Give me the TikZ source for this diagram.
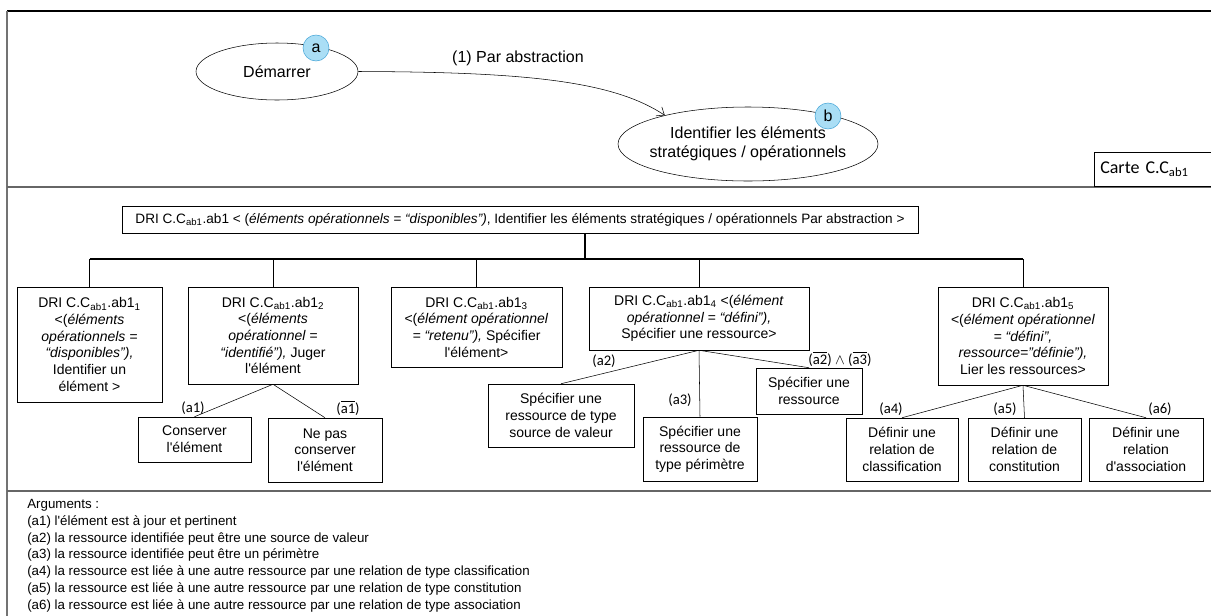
\documentclass[tikz,border=0pt]{standalone}
\usepackage{fontspec}
\setmainfont{Liberation Sans}
\newfontfamily\calib{Carlito}
\usepackage{amsmath}
\usepackage{xcolor}
\usetikzlibrary{arrows.meta,calc,positioning,shapes.geometric}

\definecolor{bulle}{RGB}{170,222,245}
\definecolor{bullebord}{RGB}{70,165,215}
\newcommand\pxu{0.75pt}
\newcommand\CCab{C.C\textsubscript{ab1}}
\newcommand\ap{\textquotesingle}
\newcommand\nonarg[1]{(\ensuremath{\overline{\mbox{#1}}})}

\tikzset{
  dri/.style={draw, align=center, inner sep=1pt, font=\fontsize{10.5}{12.5}\selectfont},
  etat/.style={draw, ellipse, align=center, inner xsep=-6pt, inner ysep=0pt, font=\fontsize{12}{14}\selectfont},
  bulle/.style={circle, draw=bullebord, fill=bulle, minimum size=26*\pxu, inner sep=0pt, font=\fontsize{12}{14}\selectfont},
  argl/.style={font=\calib\fontsize{11}{13}\selectfont, inner sep=0pt},
  argtxt/.style={anchor=west, inner sep=0pt, font=\fontsize{10}{12}\selectfont},
  sep/.style={line width=1.8pt, black!60},
  bus/.style={line width=1.2pt},
  fleche/.style={-{Straight Barb[length=5pt,width=8pt]}},
}

\begin{document}
\begin{tikzpicture}[x=0.75pt,y=-0.75pt]
\useasboundingbox (0,0) rectangle (1211,615);
% cadre et separations
\draw[line width=1.2pt] (1220,11) -- (7,11);
\draw[line width=1.5pt, black!55] (7,11) -- (7,620);
\draw[sep] (7,187) -- (1220,187);
\draw[sep] (7,491) -- (1220,491);

% carte
\node[etat, minimum width=162*\pxu, minimum height=57*\pxu] (start) at (277,71.5) {Démarrer};
\node[etat, minimum width=260*\pxu, minimum height=74*\pxu] (ident) at (748,144) {Identifier les éléments\\stratégiques / opérationnels};
\node[bulle] (ba) at (316,48) {a};
\node[bulle] (bb) at (828,116) {b};
\draw[fleche] (start.east) .. controls (520,72) and (612,80) .. (ident.161);
\node[font=\fontsize{12}{14}\selectfont] (abs) at (518,58) {(1) Par abstraction};
\node[draw, anchor=west, inner xsep=6*\pxu, text width=120*\pxu, minimum height=34*\pxu, align=left, font=\calib\fontsize{13.5}{15}\selectfont] (carte) at (1094,169.5) {Carte C.C\textsubscript{ab1}};

% arbre des DRI
\node[dri, minimum width=796*\pxu, minimum height=27*\pxu, font=\fontsize{10.2}{12}\selectfont] (dri) at (520,219.5) {DRI \CCab.ab1 < (\textit{éléments opérationnels = “disponibles”)}, Identifier les éléments stratégiques / opérationnels Par abstraction >};
\node[dri, minimum width=145*\pxu, minimum height=115*\pxu] (b1) at (89.5,344.5) {DRI \CCab.ab1\textsubscript{1}\\<(\textit{éléments}\\\textit{opérationnels =}\\\textit{“disponibles”),}\\Identifier un\\élément >};
\node[dri, minimum width=170*\pxu, minimum height=97*\pxu] (b2) at (273,335.5) {DRI \CCab.ab1\textsubscript{2}\\<(\textit{éléments}\\\textit{opérationnel =}\\\textit{“identifié”),} Juger\\l\ap élément};
\node[dri, minimum width=171*\pxu, minimum height=80*\pxu] (b3) at (476.5,327) {DRI \CCab.ab1\textsubscript{3}\\<(\textit{élément opérationnel}\\\textit{= “retenu”),} Spécifier\\l\ap élément>};
\node[dri, minimum width=220*\pxu, minimum height=63*\pxu] (b4) at (699,318.5) {DRI \CCab.ab1\textsubscript{4} <(\textit{élément}\\\textit{opérationnel = “défini”),}\\Spécifier une ressource>};
\node[dri, minimum width=170*\pxu, minimum height=98*\pxu] (b5) at (1023,336) {DRI \CCab.ab1\textsubscript{5}\\<(\textit{élément opérationnel}\\\textit{= “défini”,}\\\textit{ressource="définie"),}\\Lier les ressources>};

\node[dri, minimum width=113*\pxu, minimum height=45*\pxu] (c1) at (194.5,439.5) {Conserver\\l\ap élément};
\node[dri, minimum width=114*\pxu, minimum height=64*\pxu] (c2) at (325,450) {Ne pas\\conserver\\l\ap élément};
\node[dri, minimum width=146*\pxu, minimum height=63*\pxu] (r1) at (561,415.5) {Spécifier une\\ressource de type\\source de valeur};
\node[dri, minimum width=114*\pxu, minimum height=64*\pxu] (r2) at (700,449) {Spécifier une\\ressource de\\type périmètre};
\node[dri, minimum width=106*\pxu, minimum height=46*\pxu] (r3) at (809,391) {Spécifier une\\ressource};
\node[dri, minimum width=112*\pxu, minimum height=63*\pxu] (d1) at (902,449.5) {Définir une\\relation de\\classification};
\node[dri, minimum width=113*\pxu, minimum height=63*\pxu] (d2) at (1024.5,449.5) {Définir une\\relation de\\constitution};
\node[dri, minimum width=114*\pxu, minimum height=63*\pxu] (d3) at (1146,449.5) {Définir une\\relation\\d\ap association};

\coordinate (bus) at (0,259);
\coordinate (tronc) at (585,259);
\draw[bus] (dri.south -| tronc) -- (tronc);
\draw[bus] (b1.north |- bus) -- (b5.north |- bus);
\foreach \b in {b1,b2,b3,b4,b5}
  \draw (\b.north) -- (\b.north |- bus);
\foreach \p/\c in {b2/c1,b2/c2,b4/r1,b4/r2,b4/r3,b5/d1,b5/d2,b5/d3}
  \draw (\p.south) -- (\c.north);

% arguments sur les branches
\node[argl] (la1) at (193,408) {(a1)};
\node[argl] (lna1) at (348,408) {\nonarg{a1}};
\node[argl] (la2) at (604,361) {(a2)};
\node[argl] (la3) at (680,400) {(a3)};
\node[argl] (lna23) at (840,359) {\nonarg{a2} $\wedge$ \nonarg{a3}};
\node[argl] (la4) at (891,409) {(a4)};
\node[argl] (la5) at (1005,409) {(a5)};
\node[argl] (la6) at (1160,409) {(a6)};

% legende
\node[argtxt] (arg0) at (27,505) {Arguments :};
\foreach \t [count=\i] in {(a1) l\ap élément est à jour et pertinent,
  (a2) la ressource identifiée peut être une source de valeur,
  (a3) la ressource identifiée peut être un périmètre,
  (a4) la ressource est liée à une autre ressource par une relation de type classification,
  (a5) la ressource est liée à une autre ressource par une relation de type constitution,
  (a6) la ressource est liée à une autre ressource par une relation de type association}
  \node[argtxt] (arg\i) at (27,505+16.8*\i) {\t};
\end{tikzpicture}
\end{document}
